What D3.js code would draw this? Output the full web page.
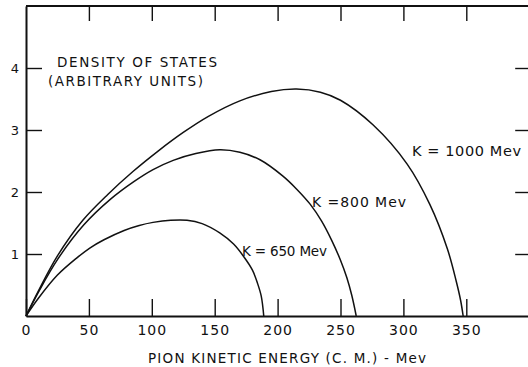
<!DOCTYPE html>
<html>
<head>
<meta charset="utf-8">
<script src="https://cdn.jsdelivr.net/npm/d3@7"></script>
<style>
  html, body { margin: 0; padding: 0; background: #fff; }
  svg { display: block; }
  text { font-family: "DejaVu Sans", "Liberation Sans", sans-serif; fill: #111; }
  .axis path, .axis line { stroke: #111; }
</style>
</head>
<body>
<svg id="chart" width="528" height="367"></svg>
<script>
// Pion kinetic energy in the C.M. frame (MeV) and density of states (arbitrary units)
const energy650 = [0, 10, 25, 40, 51, 62, 78, 90, 101, 115, 128, 140, 154, 165, 173, 180, 184, 187, 189];
const density650 = [0, 0.29, 0.66, 0.93, 1.10, 1.23, 1.38, 1.46, 1.51, 1.545, 1.545, 1.49, 1.34, 1.16, 0.96, 0.74, 0.53, 0.32, 0];

const energy800 = [0, 10, 25, 46, 67, 86, 101, 117, 135, 154, 170, 186, 204, 215, 226, 235, 243, 250, 255, 259, 262.5];
const density800 = [0, 0.39, 0.91, 1.47, 1.88, 2.17, 2.36, 2.51, 2.62, 2.68, 2.64, 2.52, 2.26, 2.05, 1.80, 1.53, 1.22, 0.90, 0.62, 0.33, 0];

const energy1000 = [0, 10, 25, 45, 65, 85, 105, 125, 145, 170, 195, 215, 234, 250, 276, 303, 321, 335, 342, 345.5, 347.5];
const density1000 = [0, 0.41, 0.97, 1.54, 1.96, 2.33, 2.66, 2.96, 3.22, 3.47, 3.62, 3.66, 3.61, 3.48, 3.08, 2.45, 1.80, 1.08, 0.56, 0.25, 0];

const curveLabels = ["K = 650 Mev", "K =800 Mev", "K = 1000 Mev"];
const xTickValues = [0, 50, 100, 150, 200, 250, 300, 350];
const yTickValues = [1, 2, 3, 4];
const xTitle = "PION KINETIC ENERGY (C. M.) - Mev";
const yTitleLines = ["DENSITY OF STATES", "(ARBITRARY UNITS)"];

const svg = d3.select("#chart");

const x = d3.scaleLinear().domain([0, 400]).range([26, 529.2]);
const y = d3.scaleLinear().domain([0, 5]).range([316, 6]);

// top frame line
svg.append("line")
  .attr("x1", x(0)).attr("x2", 528)
  .attr("y1", y(5)).attr("y2", y(5))
  .attr("stroke", "#111").attr("stroke-width", 2);

// bottom axis with inward ticks and labels below
const gBottom = svg.append("g").attr("class", "axis")
  .attr("transform", `translate(0,${y(0)})`)
  .call(d3.axisBottom(x).tickValues(xTickValues).tickSizeInner(-17).tickSizeOuter(0).tickPadding(9)
    .tickFormat(d3.format("d")));
gBottom.select(".domain").attr("stroke-width", 2);
gBottom.selectAll("line").attr("stroke-width", 1.4);
gBottom.selectAll("text").attr("font-size", 14).attr("fill", "#111").attr("letter-spacing", 1);

// top axis, ticks only
const gTop = svg.append("g").attr("class", "axis")
  .attr("transform", `translate(0,${y(5)})`)
  .call(d3.axisTop(x).tickValues(xTickValues.slice(1)).tickSizeInner(-15).tickSizeOuter(0).tickFormat(""));
gTop.select(".domain").remove();
gTop.selectAll("line").attr("stroke-width", 1.4);

// left axis
const gLeft = svg.append("g").attr("class", "axis")
  .attr("transform", `translate(${x(0)},0)`)
  .call(d3.axisLeft(y).tickValues(yTickValues).tickSizeInner(-16).tickSizeOuter(0).tickPadding(7)
    .tickFormat(d3.format("d")));
gLeft.select(".domain").attr("stroke-width", 2);
gLeft.selectAll("line").attr("stroke-width", 1.4);
gLeft.selectAll("text").attr("font-size", 13).attr("fill", "#111");

// right axis, ticks only
const gRight = svg.append("g").attr("class", "axis")
  .attr("transform", `translate(${x(400)},0)`)
  .call(d3.axisRight(y).tickValues(yTickValues).tickSizeInner(-14).tickSizeOuter(0).tickFormat(""));
gRight.selectAll("line").attr("stroke-width", 1.4);

// density-of-states curves
const line = d3.line()
  .x(d => x(d[0]))
  .y(d => y(d[1]))
  .curve(d3.curveCatmullRom.alpha(0.5));

const series = [
  d3.zip(energy650, density650),
  d3.zip(energy800, density800),
  d3.zip(energy1000, density1000)
];

svg.append("g").selectAll("path")
  .data(series)
  .join("path")
  .attr("d", line)
  .attr("fill", "none")
  .attr("stroke", "#111")
  .attr("stroke-width", 1.5);

// text helper: spread a string over a given width
function label(str, x0, baseline, width, size) {
  svg.append("text")
    .attr("x", x0).attr("y", baseline)
    .attr("font-size", size)
    .attr("textLength", width)
    .attr("lengthAdjust", "spacing")
    .text(str);
}

label(yTitleLines[0], 57, 67, 160, 13.5);
label(yTitleLines[1], 48, 86, 155, 13.5);
label(curveLabels[2], 412, 156, 109, 14.5);
label(curveLabels[1], 312, 207, 94, 14);
label(curveLabels[0], 242, 256, 85, 13.5);
label(xTitle, 148, 363, 278, 13.5);
</script>
</body>
</html>
